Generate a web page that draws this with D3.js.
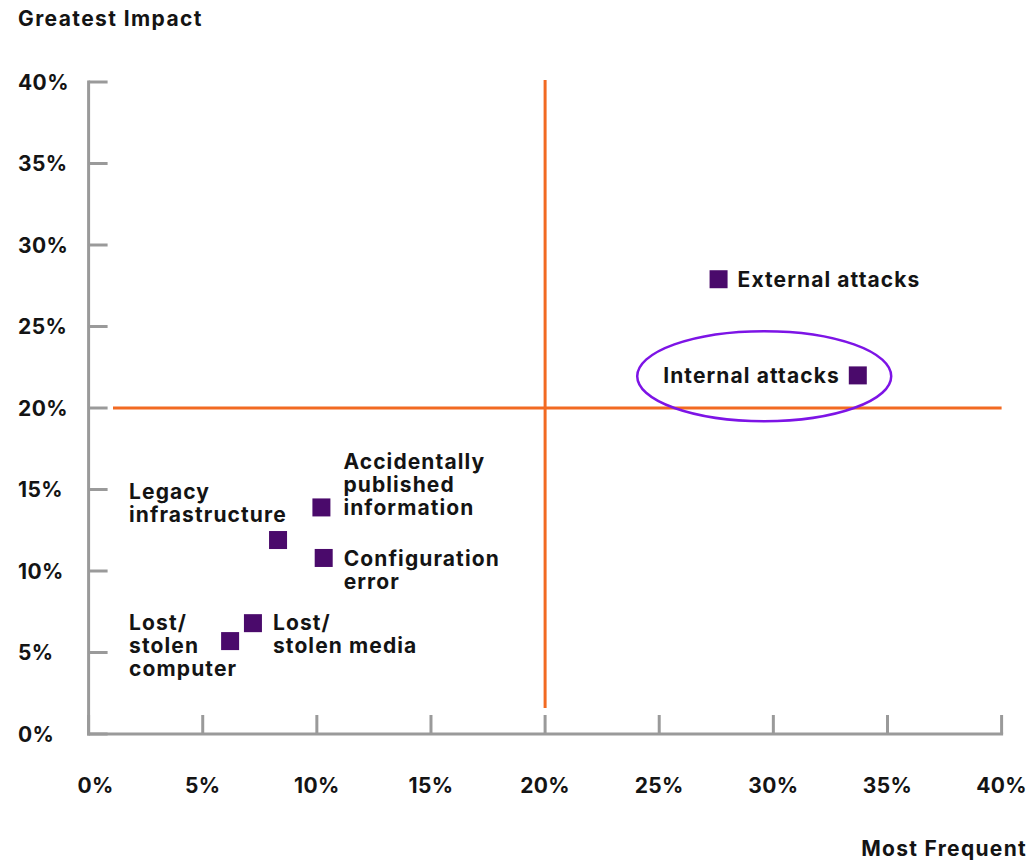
<!DOCTYPE html>
<html>
<head>
<meta charset="utf-8">
<script src="https://cdn.jsdelivr.net/npm/d3@7"></script>
<style>
  body { margin: 0; background: #fff; }
  text { font-family: "Inter", "Roboto", sans-serif; font-weight: 700; fill: #141414; font-size: 21px; letter-spacing: 1.1px; }
</style>
</head>
<body>
<script>
// Risk categories (percent)
var categories = ["External attacks", "Internal attacks", "Accidentally published information",
    "Legacy infrastructure", "Configuration error", "Lost/ stolen media", "Lost/ stolen computer"];
var frequent = [27.6, 33.7, 10.2, 8.3, 10.3, 7.2, 6.2];
var impact = [27.9, 22.0, 13.9, 11.9, 10.8, 6.8, 5.7];

var xTicks = [0, 5, 10, 15, 20, 25, 30, 35, 40];
var yTicks = [0, 5, 10, 15, 20, 25, 30, 35, 40];

// label lines and where they sit relative to the square
var labelLines = [
    ["External attacks"],
    ["Internal attacks"],
    ["Accidentally", "published", "information"],
    ["Legacy", "infrastructure"],
    ["Configuration", "error"],
    ["Lost/", "stolen media"],
    ["Lost/", "stolen", "computer"]
];
var labelPos = [
    { dx: 19, dy: 0, anchor: "start" },
    { dx: -18, dy: 0, anchor: "end" },
    { dx: 22, dy: -46, anchor: "start" },
    { dx: -149, dy: -49, anchor: "start" },
    { dx: 20, dy: 0, anchor: "start" },
    { dx: 20, dy: -1, anchor: "start" },
    { dx: -101, dy: -19, anchor: "start" }
];

var svg = d3.select("body")
    .append("svg")
    .attr("width", 1028)
    .attr("height", 862);

var x = d3.scaleLinear().domain([0, 40]).range([88.6, 1001.6]);
var y = d3.scaleLinear().domain([0, 40]).range([734, 82]);

var axisColor = "#9a9a9a";
var orange = "#f26a22";
var purple = "#4a0a6b";

// y axis line + inward ticks
svg.append("line")
    .attr("x1", x(0)).attr("x2", x(0))
    .attr("y1", y(40) - 1.5).attr("y2", y(0) + 1.5)
    .attr("stroke", axisColor).attr("stroke-width", 3);
svg.selectAll(".ytick")
    .data(yTicks)
    .enter()
    .append("line")
    .attr("class", "ytick")
    .attr("x1", x(0)).attr("x2", x(0) + 19)
    .attr("y1", d => y(d)).attr("y2", d => y(d))
    .attr("stroke", axisColor).attr("stroke-width", 3);
svg.selectAll(".ylab")
    .data(yTicks)
    .enter()
    .append("text")
    .attr("class", "ylab")
    .attr("x", 18)
    .attr("y", d => y(d))
    .attr("dy", "0.36em")
    .style("letter-spacing", "0.4px")
    .text(d => d + "%");

// x axis line + inward ticks
svg.append("line")
    .attr("x1", x(0) - 1.5).attr("x2", x(40) + 1.5)
    .attr("y1", y(0)).attr("y2", y(0))
    .attr("stroke", axisColor).attr("stroke-width", 3);
svg.selectAll(".xtick")
    .data(xTicks)
    .enter()
    .append("line")
    .attr("class", "xtick")
    .attr("x1", d => x(d)).attr("x2", d => x(d))
    .attr("y1", y(0)).attr("y2", y(0) - 19)
    .attr("stroke", axisColor).attr("stroke-width", 3);
svg.selectAll(".xlab")
    .data(xTicks)
    .enter()
    .append("text")
    .attr("class", "xlab")
    .attr("x", d => x(d) + (d === 0 ? 7 : 0))
    .attr("y", 785)
    .attr("dy", "0.36em")
    .attr("text-anchor", "middle")
    .style("letter-spacing", "0.4px")
    .text(d => d + "%");

// quadrant lines at 20%
svg.append("line")
    .attr("x1", x(20)).attr("x2", x(20))
    .attr("y1", 80).attr("y2", 708)
    .attr("stroke", orange).attr("stroke-width", 3);
svg.append("line")
    .attr("x1", 113).attr("x2", x(40))
    .attr("y1", y(20)).attr("y2", y(20))
    .attr("stroke", orange).attr("stroke-width", 3);

// axis titles
svg.append("text")
    .attr("x", 18).attr("y", 18).attr("dy", "0.36em")
    .style("letter-spacing", "1.4px")
    .text("Greatest Impact");
svg.append("text")
    .attr("x", 1027).attr("y", 848).attr("dy", "0.36em")
    .attr("text-anchor", "end")
    .style("letter-spacing", "1.3px")
    .text("Most Frequent");

// highlight ellipse round Internal attacks
svg.append("ellipse")
    .attr("cx", x(29.6)).attr("cy", y(21.95))
    .attr("rx", 127).attr("ry", 45)
    .attr("fill", "none")
    .attr("stroke", "#7d14e6")
    .attr("stroke-width", 2.5);

// squares
var sq = 18;
svg.selectAll(".pt")
    .data(categories)
    .enter()
    .append("rect")
    .attr("class", "pt")
    .attr("x", (d, i) => x(frequent[i]) - sq / 2)
    .attr("y", (d, i) => y(impact[i]) - sq / 2)
    .attr("width", sq).attr("height", sq)
    .attr("fill", purple);

// labels
var labels = svg.selectAll(".lab")
    .data(categories)
    .enter()
    .append("text")
    .attr("class", "lab")
    .attr("text-anchor", (d, i) => labelPos[i].anchor);

labels.each(function(d, i) {
    var lx = x(frequent[i]) + labelPos[i].dx;
    var ly = y(impact[i]) + labelPos[i].dy;
    d3.select(this).selectAll("tspan")
        .data(labelLines[i])
        .enter()
        .append("tspan")
        .attr("x", lx)
        .attr("y", (t, j) => ly + j * 23)
        .attr("dy", "0.36em")
        .text(t => t);
});
</script>
</body>
</html>
